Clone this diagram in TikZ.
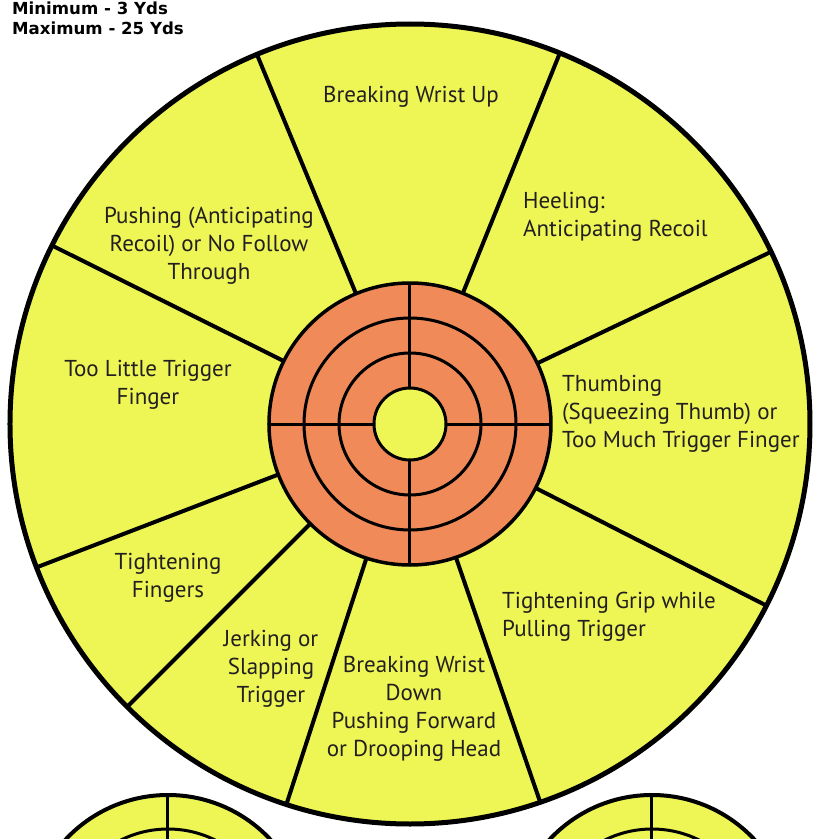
\documentclass[tikz,border=0pt]{standalone}
\usepackage{fontspec}
\setmainfont{PT Sans}
\newfontfamily\headfont{DejaVu Sans}
\usepackage{xcolor}
\definecolor{targetyellow}{RGB}{238,246,86}
\definecolor{targetorange}{RGB}{240,138,88}
\definecolor{inkgray}{RGB}{35,31,32}
\tikzset{
  % Tashqi aylana va nurlar
  rimline/.style   = {line width=5pt, draw=black},
  spokeline/.style = {line width=4pt, draw=black},
  ringline/.style  = {line width=3pt, draw=black},
  % Etiketlar
  faultlab/.style  = {font=\fontsize{23}{28}\selectfont, text=inkgray, inner sep=0pt},
  headlab/.style   = {font=\headfont\bfseries\fontsize{16.6}{20}\selectfont, anchor=base west, inner sep=0pt},
}

\begin{document}
\begin{tikzpicture}[x=1pt, y=1pt]
  \pgfmathsetmacro{\R}{400}
  \pgfmathsetmacro{\r}{141}
  \useasboundingbox (-410,-415) rectangle (418,424);
  % Pastki kichik nishonlar
  \foreach \cx in {-242, 242} {
    \fill[targetyellow] (\cx,-511) circle (140);
    \draw[ringline] (\cx,-511) circle (106);
    \draw[ringline] (\cx,-511) circle (71);
    \draw[ringline] (\cx,-371) -- (\cx,-511);
    \draw[line width=4pt] (\cx,-511) circle (140);
  }
  % Katta doira
  \fill[targetyellow] (0,0) circle (\R);
  % Nurlar
  \foreach \ang in {25.5, 68, 112.5, 153.5, 201, 225, 252, 289, 333} {
    \draw[spokeline] (\ang:\r) -- (\ang:\R);
  }
  % Markaziy nishon
  \fill[targetorange] (0,0) circle (\r);
  \draw[ringline] (0,0) circle (106);
  \draw[ringline] (0,0) circle (71);
  \draw[ringline] (-\r,0) -- (\r,0);
  \draw[ringline] (0,-\r) -- (0,\r);
  \filldraw[fill=targetyellow, ringline] (0,0) circle (36);
  \draw[line width=3.5pt] (0,0) circle (\r);
  \draw[rimline] (0,0) circle (\R);
  % Etiketlar
  \node[faultlab, align=center] (wristup) at (1,327) {Breaking Wrist Up};
  \node[faultlab, align=left, anchor=west] (heeling) at (113,207) {Heeling:\\Anticipating Recoil};
  \node[faultlab, align=center] (pushing) at (-201,178) {Pushing (Anticipating\\Recoil) or No Follow\\Through};
  \node[faultlab, align=center] (toolittle) at (-262,39) {Too Little Trigger\\Finger};
  \node[faultlab, align=left, anchor=west] (thumbing) at (152,10) {Thumbing\\(Squeezing Thumb) or\\Too Much Trigger Finger};
  \node[faultlab, align=center] (tightfing) at (-242,-154) {Tightening\\Fingers};
  \node[faultlab, align=center] (jerking) at (-139,-245) {Jerking or\\Slapping\\Trigger};
  \node[faultlab, align=center] (wristdown) at (4,-285) {Breaking Wrist\\Down\\Pushing Forward\\or Drooping Head};
  \node[faultlab, align=left, anchor=west] (tightgrip) at (92,-193) {Tightening Grip while\\Pulling Trigger};
  % Masofa
  \node[headlab] (minrange) at (-398,409) {Minimum - 3 Yds};
  \node[headlab] (maxrange) at (-398,389) {Maximum - 25 Yds};
\end{tikzpicture}
\end{document}
